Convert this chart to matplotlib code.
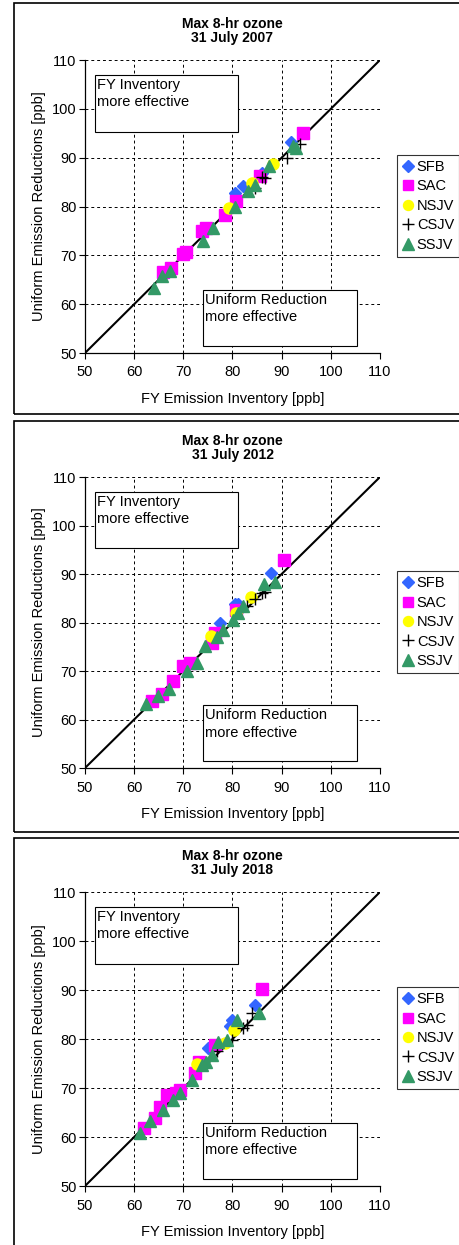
import matplotlib
matplotlib.use("Agg")
import matplotlib.pyplot as plt
from matplotlib.patches import Rectangle

plt.rcParams['font.family'] = ['Liberation Sans', 'DejaVu Sans']

titles = ["Max 8-hr ozone\n31 July 2007", "Max 8-hr ozone\n31 July 2012", "Max 8-hr ozone\n31 July 2018"]
series_names = ["SFB", "SAC", "NSJV", "CSJV", "SSJV"]

# 2007
sfb_2007_x = [91.8, 85.9, 82.2, 80.5]
sfb_2007_y = [93.2, 86.8, 84.1, 82.8]
sac_2007_x = [94.4, 85.6, 80.8, 78.5, 73.7, 74.7, 70.5, 70.0, 67.4, 65.9]
sac_2007_y = [95.0, 86.3, 81.1, 78.2, 74.9, 75.6, 70.7, 70.2, 67.4, 66.5]
nsjv_2007_x = [88.2, 83.9, 79.2]
nsjv_2007_y = [88.8, 84.8, 79.7]
csjv_2007_x = [93.7, 91.0, 86.6, 85.9, 84.6]
csjv_2007_y = [92.9, 89.9, 85.8, 86.1, 83.8]
ssjv_2007_x = [92.4, 93.0, 87.5, 84.6, 83.2, 80.5, 76.1, 73.9, 67.2, 65.6, 64.0]
ssjv_2007_y = [92.4, 92.0, 88.2, 84.4, 83.1, 80.0, 75.6, 73.0, 66.8, 65.8, 63.4]

# 2012
sfb_2012_x = [87.8, 80.5, 81.2, 77.5]
sfb_2012_y = [90.3, 83.9, 83.9, 79.9]
sac_2012_x = [90.5, 80.8, 76.4, 75.8, 71.4, 70.0, 68.0, 65.6, 63.6]
sac_2012_y = [92.9, 82.6, 77.8, 75.8, 71.7, 71.0, 68.0, 65.2, 63.9]
nsjv_2012_x = [83.7, 80.7, 75.6]
nsjv_2012_y = [85.3, 82.0, 77.3]
csjv_2012_x = [85.9, 86.6, 82.9, 84.5]
csjv_2012_y = [86.0, 86.3, 83.3, 84.9]
ssjv_2012_x = [88.6, 86.4, 82.2, 81.2, 80.2, 78.1, 76.8, 74.4, 72.7, 70.7, 67.0, 64.9, 62.5]
ssjv_2012_y = [88.4, 88.0, 83.3, 81.9, 80.5, 78.5, 77.1, 75.1, 71.7, 70.0, 66.3, 64.9, 63.2]

# 2018
sfb_2018_x = [84.6, 79.8, 79.5, 75.1]
sfb_2018_y = [87.0, 83.9, 82.6, 78.1]
sac_2018_x = [85.9, 76.4, 73.1, 72.4, 69.3, 68.5, 66.6, 65.3, 64.2, 61.9]
sac_2018_y = [90.2, 78.8, 75.4, 73.0, 69.6, 69.0, 68.6, 66.2, 63.9, 61.8]
nsjv_2018_x = [80.3, 78.5, 72.7]
nsjv_2018_y = [81.9, 79.2, 74.9]
csjv_2018_x = [83.9, 82.9, 82.2, 79.8, 76.8]
csjv_2018_y = [85.3, 82.9, 82.2, 79.8, 77.5]
ssjv_2018_x = [85.4, 81.0, 78.8, 77.1, 75.8, 74.7, 73.7, 71.7, 69.3, 68.0, 65.9, 63.2, 61.1]
ssjv_2018_y = [85.3, 83.9, 79.8, 79.3, 76.8, 75.4, 74.7, 71.7, 69.0, 67.6, 65.6, 63.2, 60.8]

panels = [
    [(sfb_2007_x, sfb_2007_y), (sac_2007_x, sac_2007_y), (nsjv_2007_x, nsjv_2007_y),
     (csjv_2007_x, csjv_2007_y), (ssjv_2007_x, ssjv_2007_y)],
    [(sfb_2012_x, sfb_2012_y), (sac_2012_x, sac_2012_y), (nsjv_2012_x, nsjv_2012_y),
     (csjv_2012_x, csjv_2012_y), (ssjv_2012_x, ssjv_2012_y)],
    [(sfb_2018_x, sfb_2018_y), (sac_2018_x, sac_2018_y), (nsjv_2018_x, nsjv_2018_y),
     (csjv_2018_x, csjv_2018_y), (ssjv_2018_x, ssjv_2018_y)],
]

ticks = [50, 60, 70, 80, 90, 100, 110]

styles = [
    dict(marker='D', color='#3366FF', ms=6.5, mec='#3366FF', ls='none'),
    dict(marker='s', color='#FF00FF', ms=8, mec='#FF00FF', ls='none'),
    dict(marker='o', color='#FFFF00', ms=8, mec='#FFFF00', ls='none'),
    dict(marker='+', color='black', ms=9, mew=1.0, ls='none'),
    dict(marker='^', color='#339966', ms=9, mec='#339966', ls='none'),
]

FS = 10.5
W, H = 460, 1245
fig = plt.figure(figsize=(W / 100, H / 100), dpi=100)

axes_px = [(60, 353), (477, 768), (892, 1186)]
frames_px = [(3, 414), (421, 832), (838, 1250)]
left_px, right_px = 85, 380

for (ftop, fbot) in frames_px:
    fig.patches.append(Rectangle((14 / W, 1 - fbot / H), 1.0, (fbot - ftop) / H,
                                 transform=fig.transFigure, fill=False,
                                 edgecolor='black', lw=1.2))

for i, (ptop, pbot) in enumerate(axes_px):
    ax = fig.add_axes([left_px / W, 1 - pbot / H, (right_px - left_px) / W, (pbot - ptop) / H])
    ax.set_xlim(50, 110)
    ax.set_ylim(50, 110)
    ax.set_xticks(ticks)
    ax.set_yticks(ticks)
    ax.tick_params(direction='out', length=4, width=0.8, labelsize=FS)
    ax.tick_params(axis='x', pad=5)
    ax.tick_params(axis='y', pad=2)
    ax.grid(True, color='black', ls=(0, (3, 3)), lw=0.7)
    ax.set_axisbelow(True)
    for s in ['top', 'right']:
        ax.spines[s].set_visible(False)
    for s in ['left', 'bottom']:
        ax.spines[s].set_linewidth(0.9)
    ax.plot(ticks, ticks, color='black', lw=1.5, zorder=2)

    ax.add_patch(Rectangle((52.0, 95.3), 29.1, 11.6, facecolor='white', edgecolor='black', lw=0.8, zorder=2.5))
    ax.text(52.5, 106.3, "FY Inventory\nmore effective", fontsize=FS, va='top', ha='left',
            linespacing=1.3, zorder=2.6)
    ax.add_patch(Rectangle((74.0, 51.4), 31.3, 11.5, facecolor='white', edgecolor='black', lw=0.8, zorder=2.5))
    ax.text(74.5, 62.3, "Uniform Reduction\nmore effective", fontsize=FS, va='top', ha='left',
            linespacing=1.3, zorder=2.6)

    for (xs, ys), name, st in zip(panels[i], series_names, styles):
        ax.plot(xs, ys, label=name, zorder=3, **st)

    ax.set_title(titles[i], fontsize=10, fontweight='bold', pad=13, linespacing=1.0)
    ax.set_xlabel("FY Emission Inventory [ppb]", fontsize=FS, labelpad=9)
    ax.set_ylabel("Uniform Emission Reductions [ppb]", fontsize=FS, labelpad=4)

    leg = ax.legend(loc='upper left', bbox_to_anchor=(1.058, 0.676), frameon=True, fancybox=False,
                    fontsize=FS, handlelength=0.8, handletextpad=0.2, labelspacing=0.37,
                    borderpad=0.35, borderaxespad=0, markerscale=0.9)
    leg.get_frame().set_edgecolor('black')
    leg.get_frame().set_linewidth(0.8)

fig.savefig("out.png", dpi=100)
